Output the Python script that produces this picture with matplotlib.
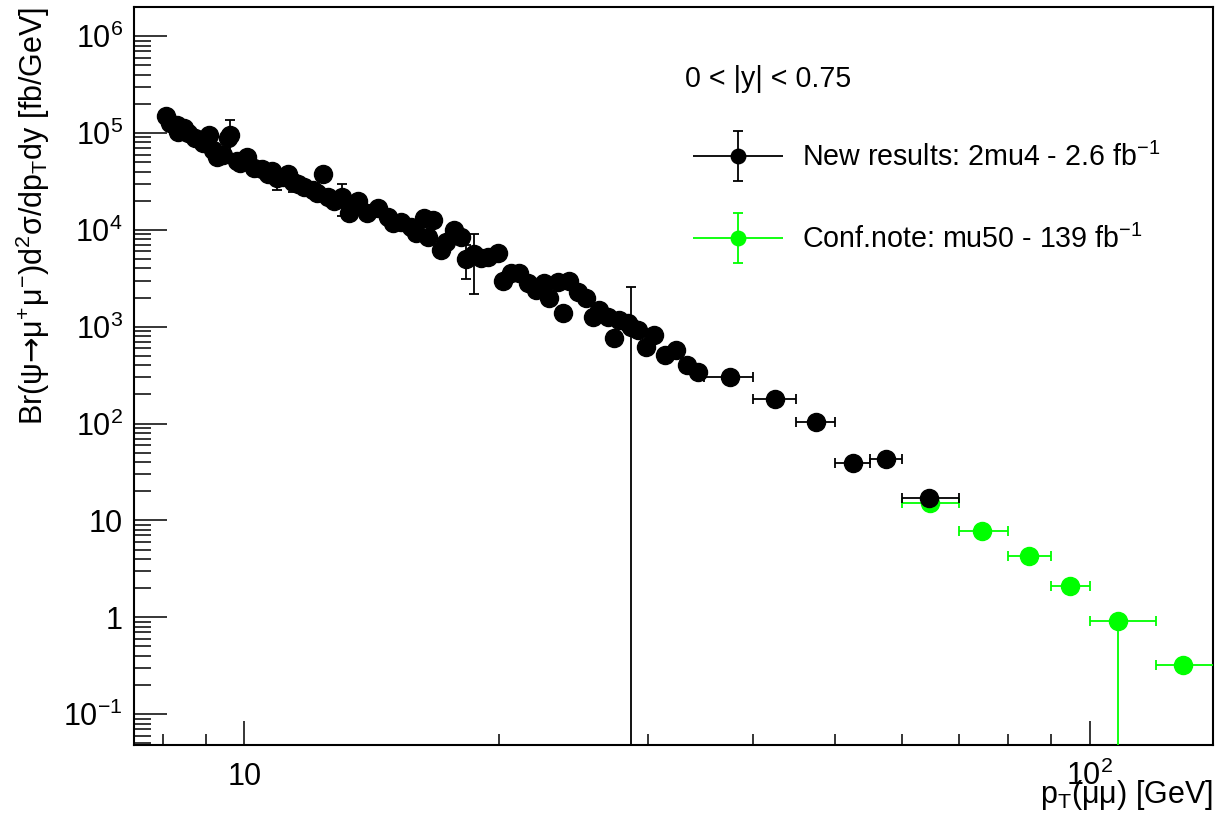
import numpy as np
import matplotlib.pyplot as plt
from matplotlib.ticker import LogLocator, NullFormatter
from matplotlib.legend_handler import HandlerErrorbar
from matplotlib.container import ErrorbarContainer

plt.rcParams['font.family'] = ['Liberation Sans', 'DejaVu Sans']
plt.rcParams['mathtext.fontset'] = 'custom'
plt.rcParams['mathtext.rm'] = 'Liberation Sans'
plt.rcParams['mathtext.it'] = 'Liberation Sans:italic'
plt.rcParams['mathtext.bf'] = 'Liberation Sans:bold'
plt.rcParams['mathtext.sf'] = 'DejaVu Sans'  # only used for the long arrow

# New results, 2mu4 trigger: fine pT bins (x errors hidden under markers)
new_pt = [8.08, 8.17, 8.33, 8.35, 8.47, 8.58, 8.75, 8.92, 8.94, 9.07,
          9.19, 9.29, 9.44, 9.55, 9.62, 9.81, 9.89, 10.08, 10.25, 10.50,
          10.65, 10.79, 10.94, 11.12, 11.27, 11.40, 11.56, 11.75, 12.04, 12.20,
          12.37, 12.54, 12.75, 13.06, 13.28, 13.61, 13.98, 14.37, 14.77, 14.98,
          15.30, 15.73, 15.95, 16.30, 16.48, 16.70, 17.07, 17.30, 17.68, 18.03,
          18.27, 18.67, 19.04, 19.41, 19.94, 20.21, 20.66, 21.11, 21.64, 22.12,
          22.61, 22.92, 23.49, 23.82, 24.21, 24.80, 25.35, 25.84, 26.26, 26.92,
          27.36, 27.74, 28.43, 28.66, 29.21, 29.86, 30.51, 31.45, 32.41, 33.39,
          34.41]
new_val = [1.49e5, 1.26e5, 1.20e5, 1.02e5, 1.14e5, 9.9e4, 8.8e4, 8.4e4, 7.8e4, 9.5e4,
           6.6e4, 5.6e4, 5.9e4, 8.8e4, 9.5e4, 5.2e4, 4.9e4, 5.6e4, 4.4e4, 4.3e4,
           3.8e4, 4.1e4, 3.4e4, 3.5e4, 3.8e4, 3.1e4, 3.0e4, 2.8e4, 2.6e4, 2.4e4,
           3.8e4, 2.2e4, 2.0e4, 2.2e4, 1.5e4, 2.0e4, 1.5e4, 1.7e4, 1.35e4, 1.17e4,
           1.20e4, 1.07e4, 9.3e3, 1.32e4, 8.4e3, 1.26e4, 6.2e3, 7.5e3, 9.9e3, 8.4e3,
           5.0e3, 5.6e3, 5.1e3, 5.2e3, 5.8e3, 3.0e3, 3.6e3, 3.6e3, 2.8e3, 2.4e3,
           2.8e3, 2.0e3, 2.9e3, 1.38e3, 3.0e3, 2.3e3, 2.0e3, 1.26e3, 1.49e3, 1.26e3,
           765, 1.17e3, 1.09e3, 990, 925, 618, 821, 511, 575, 403,
           341]
new_err = [0, 0, 0, 0, 0, 0, 0, 0, 0, 0,
           0, 0, 0, 0, 4.0e4, 0, 0, 0, 0, 0,
           0, 0, 8.5e3, 0, 0, 6.5e3, 0, 0, 0, 0,
           0, 0, 0, 8.0e3, 0, 0, 0, 0, 0, 0,
           0, 0, 0, 0, 0, 0, 0, 0, 0, 0,
           1.9e3, 3.4e3, 0, 0, 0, 0, 0, 0, 0, 0,
           0, 0, 0, 0, 0, 0, 0, 0, 0, 0,
           0, 0, 0, 1.6e3, 0, 0, 0, 0, 0, 0,
           0]

# New results: wide pT bins
new_wide_lo = [35, 40, 45, 50, 55, 60]
new_wide_hi = [40, 45, 50, 55, 60, 70]
new_wide_pt = [37.5, 42.5, 47.5, 52.5, 57.5, 64.5]
new_wide_val = [303, 180, 104, 39.3, 43.3, 17.1]

# Conf. note, mu50 trigger
conf_lo = [60, 70, 80, 90, 100, 120]
conf_hi = [70, 80, 90, 100, 120, 150]
conf_pt = [64.8, 74.7, 84.7, 94.7, 108, 129]
conf_val = [15.2, 7.8, 4.3, 2.1, 0.92, 0.32]
conf_err_lo = [0, 0, 0, 0, 0.92, 0]
conf_err_hi = [0, 0, 0, 0, 0, 0]

ytick_vals = [0.1, 1, 10, 1e2, 1e3, 1e4, 1e5, 1e6]
ytick_labels = [r'$\mathregular{10^{-1}}$', '1', '10', r'$\mathregular{10^{2}}$',
                r'$\mathregular{10^{3}}$', r'$\mathregular{10^{4}}$',
                r'$\mathregular{10^{5}}$', r'$\mathregular{10^{6}}$']
xtick_vals = [10, 100]
xtick_labels = ['10', r'$\mathregular{10^{2}}$']

GREEN = '#00ff00'
FS = 22       # axis text
FS_LEG = 20.6  # legend / annotation text


class RootErrorbarHandler(HandlerErrorbar):
    # ROOT legend style: caps only on the vertical bar
    def create_artists(self, *args, **kwargs):
        arts = super().create_artists(*args, **kwargs)
        for a in arts:
            if hasattr(a, 'get_marker') and a.get_marker() == '|':
                a.set_visible(False)
        return arts


fig = plt.figure(figsize=(12.18, 8.15), dpi=100)
ax = fig.add_axes([0.110, 0.0859, 0.8859, 0.9055])
ax.set_xscale('log')
ax.set_yscale('log')

pt = np.array(new_pt + new_wide_pt)
val = np.array(new_val + new_wide_val)
err = np.array(new_err + [0] * len(new_wide_pt), dtype=float)
err_lo = np.minimum(err, val)  # too large errors run off the bottom
xlo = np.concatenate([np.zeros(len(new_pt)), np.array(new_wide_pt) - new_wide_lo])
xhi = np.concatenate([np.zeros(len(new_pt)), np.array(new_wide_hi) - new_wide_pt])

cpt = np.array(conf_pt)
h_conf = ax.errorbar(cpt, conf_val, yerr=[conf_err_lo, conf_err_hi],
                     xerr=[cpt - conf_lo, np.array(conf_hi) - cpt],
                     fmt='o', color=GREEN, ms=13, elinewidth=1.3, capsize=3.5,
                     capthick=1.3, zorder=3)
h_new = ax.errorbar(pt, val, yerr=[err_lo, err], xerr=[xlo, xhi],
                    fmt='o', color='black', ms=13, elinewidth=1.3, capsize=3.5,
                    capthick=1.3, zorder=4)

ax.set_xlim(7.4, 140)
ax.set_ylim(0.048, 2.0e6)

ax.set_yticks(ytick_vals)
ax.set_yticklabels(ytick_labels)
ax.set_xticks(xtick_vals)
ax.set_xticklabels(xtick_labels, va='baseline')  # ROOT keeps labels on one baseline
ax.yaxis.set_minor_locator(LogLocator(base=10, subs=np.arange(2, 10), numticks=50))
ax.xaxis.set_minor_locator(LogLocator(base=10, subs=np.arange(2, 10), numticks=50))
ax.xaxis.set_minor_formatter(NullFormatter())
ax.yaxis.set_minor_formatter(NullFormatter())

ax.tick_params(which='both', direction='in', top=False, right=False, width=1.1,
               labelsize=FS)
ax.tick_params(axis='y', which='major', length=24, pad=8)
ax.tick_params(axis='y', which='minor', length=12)
ax.tick_params(axis='x', which='major', length=17, pad=28.5)
ax.tick_params(axis='x', which='minor', length=8)
for s in ax.spines.values():
    s.set_linewidth(1.5)

ax.set_ylabel(r'$\mathregular{Br(ψ\mathsf{→}μ^{+}μ^{-})d^{2}σ/dp_{T}dy\ [fb/GeV]}$',
              fontsize=FS, loc='top')
ax.yaxis.set_label_coords(-0.076, 1.0)
ax.set_xlabel(r'$\mathregular{p_{T}(μμ)\ [GeV]}$', fontsize=FS, loc='right')
ax.xaxis.set_label_coords(1.0, -0.045)

ax.text(0.5107, 0.8916, '0 < |y| < 0.75', transform=ax.transAxes, fontsize=FS_LEG,
        va='baseline', ha='left')

handler = RootErrorbarHandler(xerr_size=32.4 / FS_LEG, yerr_size=18 / FS_LEG)
ax.legend([h_new, h_conf],
          [r'New results: 2mu4 - 2.6 fb$^{\mathregular{-1}}$',
           r'Conf.note: mu50 - 139 fb$^{\mathregular{-1}}$'],
          loc='upper left', bbox_to_anchor=(0.518, 0.8157), frameon=False,
          fontsize=FS_LEG, handlelength=64.8 / FS_LEG, handletextpad=0.66,
          labelspacing=1.85, borderpad=0, borderaxespad=0, markerscale=0.8,
          handler_map={ErrorbarContainer: handler})

fig.savefig('out.png', dpi=100)
